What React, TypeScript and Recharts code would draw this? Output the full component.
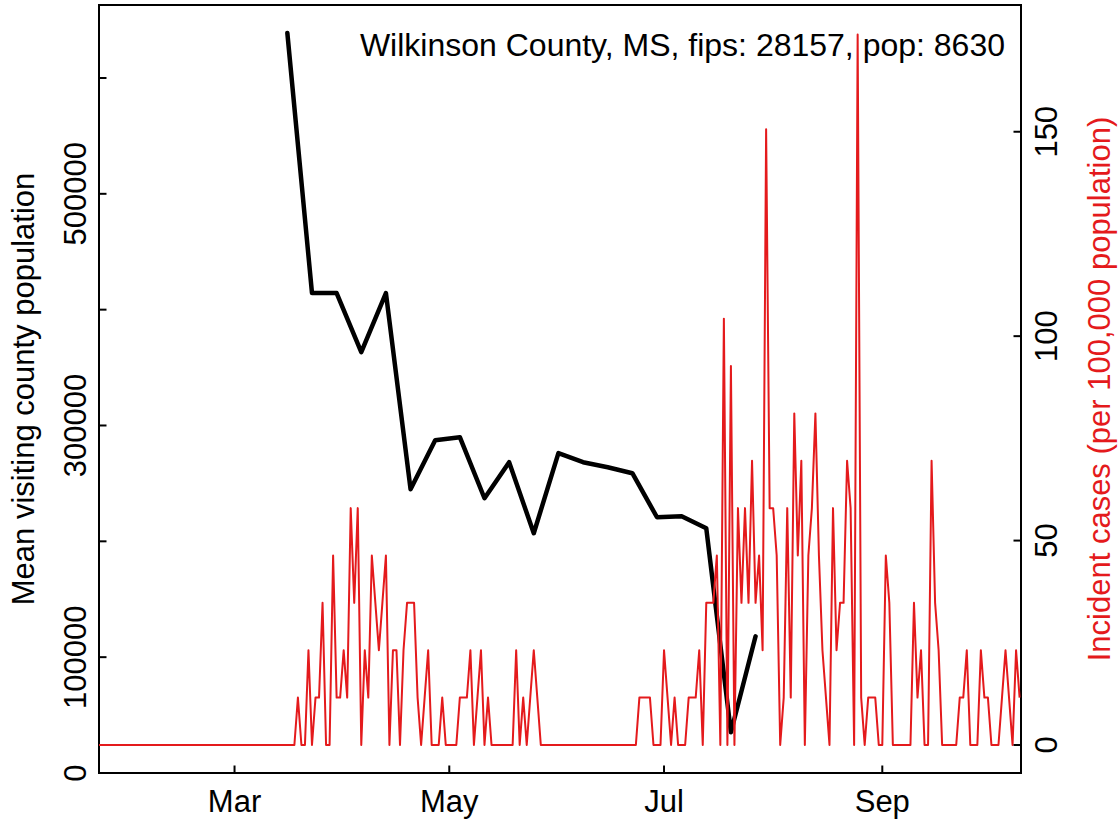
import { ComposedChart, Line, XAxis, YAxis, ReferenceArea, Customized } from 'recharts';

const POPULATION = 8630;
const FONT = '"Liberation Sans", Arial, Helvetica, sans-serif';
const RED = '#E41A1C';

// daily incident case counts, index 0 = 2020-01-22
const dailyCases = [
  0, 0, 0, 0, 0, 0, 0, 0, 0, 0, 0, 0, 0, 0, 0, 0, 0, 0, 0, 0,
  0, 0, 0, 0, 0, 0, 0, 0, 0, 0, 0, 0, 0, 0, 0, 0, 0, 0, 0, 0,
  0, 0, 0, 0, 0, 0, 0, 0, 0, 0, 0, 0, 0, 0, 0, 0, 0,
  1, 0, 0, 2, 0, 1, 1, 3, 0, 0, 4, 1, 1, 2, 1, 5, 3, 5, 0, 2,
  1, 4, 3, 2, 3, 4, 0, 2, 2, 0, 2, 3, 3, 3, 1, 0, 1, 2, 0, 0,
  0, 1, 0, 0, 0, 0, 1, 1, 1, 2, 0, 1, 2, 0, 1, 0, 0, 0, 0, 0,
  0, 0, 2, 0, 1, 0, 1, 2, 1, 0,
  0, 0, 0, 0, 0, 0, 0, 0, 0, 0, 0, 0, 0, 0, 0, 0, 0, 0, 0, 0,
  0, 0, 0, 0, 0, 0, 0,
  1, 1, 1, 1, 0, 0, 0,
  2, 1, 0, 1, 0, 0, 0, 1, 1, 1, 2, 0, 3, 3, 3, 4, 0, 9, 0, 8,
  0, 5, 3, 5, 3, 6, 3, 4, 2, 13, 5, 5, 4, 0, 1, 5, 1, 7, 4, 6,
  0, 4, 5, 7, 4, 2, 1, 0, 5, 2, 3, 3, 6, 5, 0, 15, 1, 0, 1, 1,
  1, 0, 0, 4, 3, 0, 0, 0, 0, 0, 0, 3, 1, 2, 0, 0, 6, 3, 2, 0,
  0, 0, 0, 0, 1, 1, 2, 0, 0, 0, 2, 1, 1, 0, 0, 0, 1, 2, 1, 0,
  2, 1,
];

// weekly mean visiting county population (day index from 2020-01-22)
const mobilityDays = [54, 61, 68, 75, 82, 89, 96, 103, 110, 117, 124, 131, 138, 145, 152, 159, 166, 173, 180, 187];
const mobilityValues = [
  638800, 414300, 414300, 363300, 414300, 245000, 287300, 289900, 237200, 268300,
  207000, 276100, 268300, 264000, 258800, 220800, 221700, 211300, 35200, 118000,
];

const monthTicks = [39, 100, 161, 223];
const monthLabels = ['Mar', 'May', 'Jul', 'Sep'];
const popTicks = [0, 100000, 200000, 300000, 400000, 500000, 600000];
const popLabels = ['0', '100000', '', '300000', '', '500000', ''];
const caseTicks = [0, 50, 100, 150];
const caseLabels = ['0', '50', '100', '150'];

const chartData = dailyCases.map((count, day) => {
  const w = mobilityDays.indexOf(day);
  return {
    day,
    incidence: (count * 100000) / POPULATION,
    mobility: w >= 0 ? mobilityValues[w] : null,
  };
});

const TICK_LEN = 7.5;

const BottomTick = (props: any) => {
  const { x, y, payload } = props;
  const label = monthLabels[monthTicks.indexOf(payload.value)];
  return (
    <g>
      <line x1={x} y1={y} x2={x} y2={y - TICK_LEN} stroke="#000" strokeWidth={2} />
      <text x={x} y={y + 39} textAnchor="middle" fontSize={31} fontFamily={FONT} fill="#000">
        {label}
      </text>
    </g>
  );
};

const LeftTick = (props: any) => {
  const { x, y, payload } = props;
  const label = popLabels[popTicks.indexOf(payload.value)];
  const tx = x - 13;
  return (
    <g>
      <line x1={x} y1={y} x2={x + TICK_LEN} y2={y} stroke="#000" strokeWidth={2} />
      {label && (
        <text x={tx} y={y} transform={`rotate(-90, ${tx}, ${y})`} textAnchor="middle"
          fontSize={31} fontFamily={FONT} fill="#000">
          {label}
        </text>
      )}
    </g>
  );
};

const RightTick = (props: any) => {
  const { x, y, payload } = props;
  const label = caseLabels[caseTicks.indexOf(payload.value)];
  const tx = x + 36;
  return (
    <g>
      <line x1={x} y1={y} x2={x - TICK_LEN} y2={y} stroke="#000" strokeWidth={2} />
      <text x={tx} y={y} transform={`rotate(-90, ${tx}, ${y})`} textAnchor="middle"
        fontSize={31} fontFamily={FONT} fill="#000">
        {label}
      </text>
    </g>
  );
};

const Titles = () => (
  <g fontFamily={FONT} fontSize={31}>
    <text x={34} y={389} transform="rotate(-90, 34, 389)" textAnchor="middle" fill="#000">
      Mean visiting county population
    </text>
    <text x={1110} y={389} transform="rotate(-90, 1110, 389)" textAnchor="middle" fill={RED}>
      Incident cases (per 100,000 population)
    </text>
    <text x={1005} y={56} textAnchor="end" fontSize={32} fill="#000">
      Wilkinson County, MS, fips: 28157, pop: 8630
    </text>
  </g>
);

export default function App() {
  return (
    <div style={{ position: 'absolute', left: 0, top: 0, width: 1119, height: 822, background: '#fff' }}>
      <ComposedChart width={1119} height={822} data={chartData} margin={{ top: 5, right: 0, bottom: 0, left: 0 }}>
        <XAxis
          dataKey="day"
          type="number"
          domain={[0.5, 262.4]}
          allowDataOverflow
          ticks={monthTicks}
          interval={0}
          height={49}
          tickSize={0}
          tickMargin={0}
          tickLine={false}
          axisLine={false}
          tick={<BottomTick />}
        />
        <YAxis
          yAxisId="left"
          orientation="left"
          type="number"
          domain={[0, 663000]}
          allowDataOverflow
          ticks={popTicks}
          interval={0}
          width={99}
          tickSize={0}
          tickMargin={0}
          tickLine={false}
          axisLine={false}
          tick={<LeftTick />}
        />
        <YAxis
          yAxisId="right"
          orientation="right"
          type="number"
          domain={[-6.85, 181]}
          allowDataOverflow
          ticks={caseTicks}
          interval={0}
          width={98}
          tickSize={0}
          tickMargin={0}
          tickLine={false}
          axisLine={false}
          tick={<RightTick />}
        />
        <ReferenceArea
          yAxisId="left"
          x1={0.5}
          x2={262.4}
          y1={0}
          y2={663000}
          fill="none"
          fillOpacity={0}
          stroke="#000"
          strokeWidth={2}
          ifOverflow="visible"
        />
        <Line
          yAxisId="left"
          dataKey="mobility"
          type="linear"
          stroke="#000"
          strokeWidth={4.5}
          strokeLinejoin="round"
          strokeLinecap="round"
          dot={false}
          connectNulls
          isAnimationActive={false}
        />
        <Line
          yAxisId="right"
          dataKey="incidence"
          type="linear"
          stroke={RED}
          strokeWidth={2}
          strokeLinejoin="round"
          dot={false}
          isAnimationActive={false}
        />
        <Customized component={Titles} />
      </ComposedChart>
    </div>
  );
}
